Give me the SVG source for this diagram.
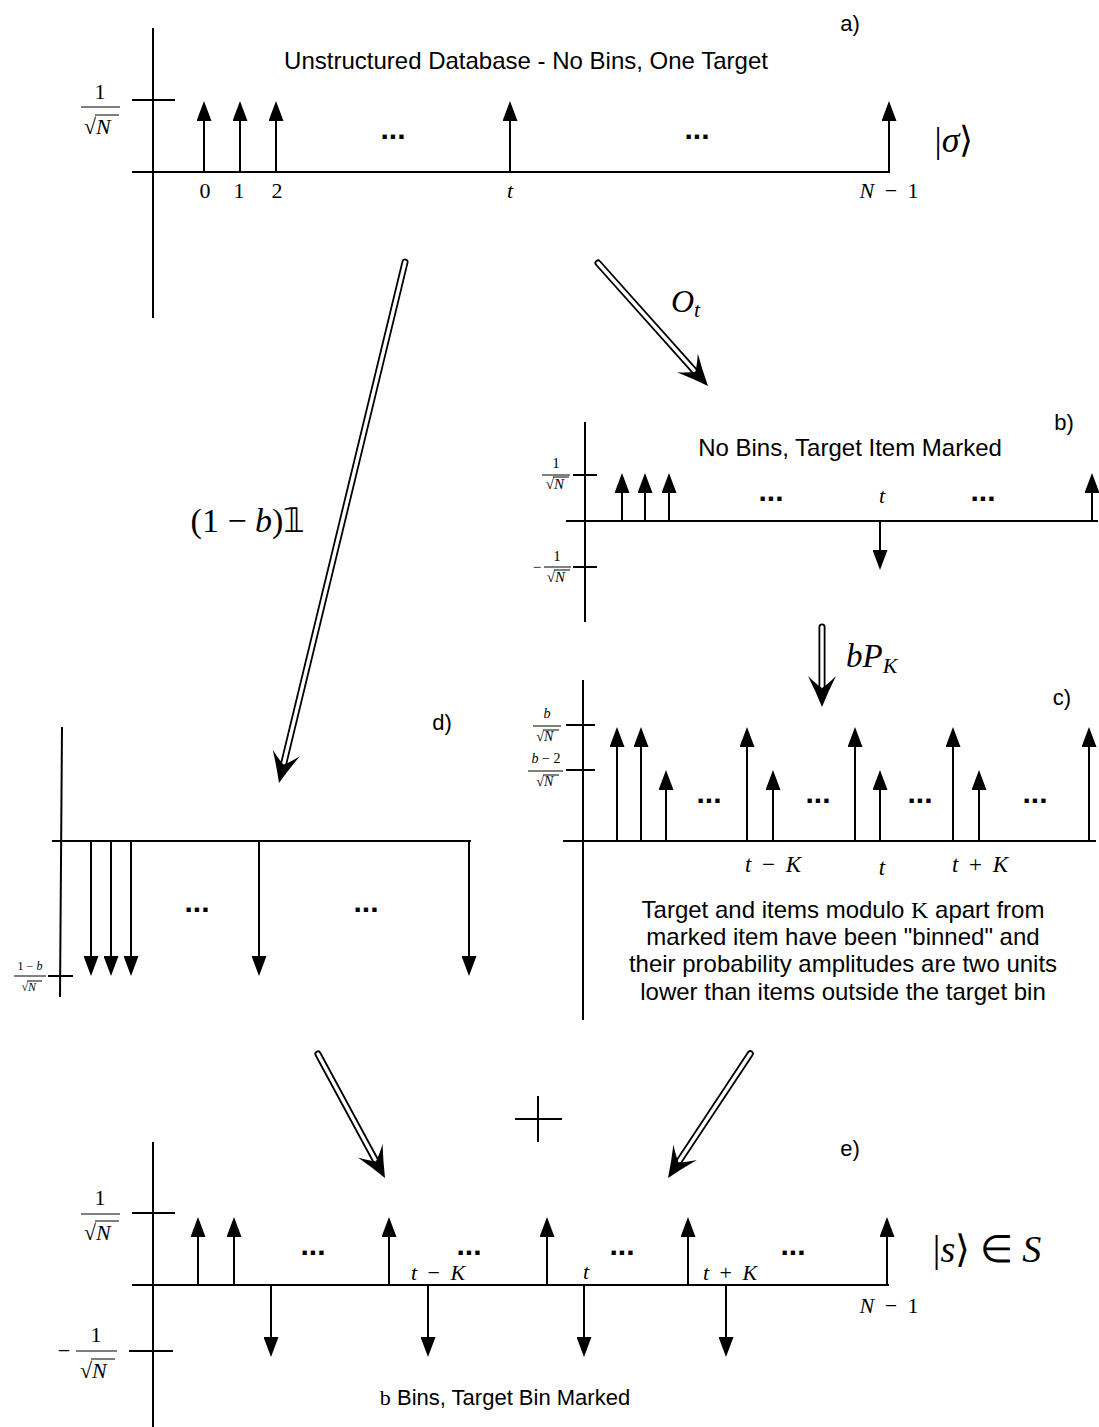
<svg xmlns="http://www.w3.org/2000/svg" xmlns:xlink="http://www.w3.org/1999/xlink" width="1099" height="1427" viewBox="0 0 1099 1427">
<style>
.ax{stroke:#000;stroke-width:2;fill:none}
.st{stroke:#000;stroke-width:2;fill:none;marker-end:url(#ah)}
.so{stroke:#000;stroke-width:7;stroke-linecap:round;fill:none}
.si{stroke:#fff;stroke-width:3.4;stroke-linecap:round;fill:none}
.fb{stroke:#000;stroke-width:1;fill:none}
.lbl{font-family:"Liberation Sans",Arial,sans-serif;font-size:24px;fill:#000}
.pl{font-family:"Liberation Sans",Arial,sans-serif;font-size:22px;fill:#000}
.dots{font-family:"Liberation Sans",Arial,sans-serif;font-size:30px;font-weight:bold;fill:#000}
.r{font-family:"Liberation Serif","Times New Roman",serif;fill:#000}
.i{font-family:"Liberation Serif","Times New Roman",serif;font-style:italic;fill:#000}
.ws{word-spacing:5px}
</style>
<defs>
<marker id="ah" viewBox="0 0 20 15" refX="16" refY="7.5" markerWidth="20" markerHeight="15" markerUnits="userSpaceOnUse" orient="auto">
<path d="M0,0 L20,7.5 L0,15 Z" fill="#000"/>
</marker>
<path id="dh" d="M0,0 Q-15,-6 -31,-14 Q-23,-6 -19,0 Q-23,6 -31,14 Q-15,6 0,0 Z" fill="#000"/>
</defs>
<rect width="1099" height="1427" fill="#fff"/>

<!-- Panel a -->
<g id="panel-a">
<line class="ax" x1="153" y1="28" x2="153" y2="318"/>
<line class="ax" x1="132" y1="172" x2="890" y2="172"/>
<line class="ax" x1="132" y1="100" x2="175" y2="100"/>
<text class="r" x="100" y="99" font-size="22" text-anchor="middle">1</text>
<line class="fb" x1="81" y1="107" x2="120" y2="107"/>
<text class="r" x="96" y="134" font-size="22" text-anchor="end">√</text>
<text class="i" x="96" y="134" font-size="22">N</text>
<line class="fb" x1="95" y1="115" x2="119" y2="115"/>
<line class="st" x1="204" y1="172" x2="204" y2="105"/>
<line class="st" x1="240" y1="172" x2="240" y2="105"/>
<line class="st" x1="276" y1="172" x2="276" y2="105"/>
<line class="st" x1="510" y1="172" x2="510" y2="105"/>
<line class="st" x1="889" y1="172" x2="889" y2="105"/>
<text class="r" x="205" y="198" font-size="22" text-anchor="middle">0</text>
<text class="r" x="239" y="198" font-size="22" text-anchor="middle">1</text>
<text class="r" x="277" y="198" font-size="22" text-anchor="middle">2</text>
<text class="i" x="510" y="198" font-size="22" text-anchor="middle">t</text>
<text class="i ws" x="889" y="198" font-size="22" text-anchor="middle">N<tspan class="r" font-style="normal"> − 1</tspan></text>
<text class="dots" x="393" y="139" text-anchor="middle">...</text>
<text class="dots" x="697" y="139" text-anchor="middle">...</text>
<text class="r" x="954" y="152" font-size="36" text-anchor="middle">|<tspan font-style="italic">σ</tspan>⟩</text>
<text class="lbl" x="526" y="69" text-anchor="middle">Unstructured Database - No Bins, One Target</text>
<text class="pl" x="850" y="31" text-anchor="middle">a)</text>
</g>

<!-- Panel b -->
<g id="panel-b">
<line class="ax" x1="585" y1="422" x2="585" y2="622"/>
<line class="ax" x1="566" y1="521" x2="1098" y2="521"/>
<line class="ax" x1="573" y1="475" x2="597" y2="475"/>
<line class="ax" x1="573" y1="567" x2="597" y2="567"/>
<text class="r" x="556" y="468" font-size="15" text-anchor="middle">1</text>
<line class="fb" x1="542" y1="475" x2="570" y2="475"/>
<text class="r" x="554" y="489" font-size="15" text-anchor="end">√</text>
<text class="i" x="554" y="489" font-size="15">N</text>
<line class="fb" x1="553" y1="477" x2="569" y2="477"/>
<text class="r" x="537" y="572" font-size="15" text-anchor="middle">−</text>
<text class="r" x="557" y="561" font-size="15" text-anchor="middle">1</text>
<line class="fb" x1="544" y1="567" x2="571" y2="567"/>
<text class="r" x="555" y="582" font-size="15" text-anchor="end">√</text>
<text class="i" x="555" y="582" font-size="15">N</text>
<line class="fb" x1="554" y1="570" x2="570" y2="570"/>
<line class="st" x1="622" y1="521" x2="622" y2="477"/>
<line class="st" x1="645" y1="521" x2="645" y2="477"/>
<line class="st" x1="669" y1="521" x2="669" y2="477"/>
<line class="st" x1="1092" y1="521" x2="1092" y2="477"/>
<line class="st" x1="880" y1="521" x2="880" y2="566"/>
<text class="i" x="882" y="503" font-size="22" text-anchor="middle">t</text>
<text class="dots" x="771" y="501" text-anchor="middle">...</text>
<text class="dots" x="983" y="501" text-anchor="middle">...</text>
<text class="lbl" x="850" y="456" text-anchor="middle">No Bins, Target Item Marked</text>
<text class="pl" x="1064" y="430" text-anchor="middle">b)</text>
</g>

<!-- Panel c -->
<g id="panel-c">
<line class="ax" x1="583" y1="680" x2="583" y2="1020"/>
<line class="ax" x1="563" y1="841" x2="1096" y2="841"/>
<line class="ax" x1="566" y1="725" x2="595" y2="725"/>
<line class="ax" x1="566" y1="770" x2="595" y2="770"/>
<text class="i" x="547" y="718" font-size="14" text-anchor="middle">b</text>
<line class="fb" x1="533" y1="726" x2="561" y2="726"/>
<text class="r" x="544" y="741" font-size="14" text-anchor="end">√</text>
<text class="i" x="544" y="741" font-size="14">N</text>
<line class="fb" x1="543" y1="730" x2="559" y2="730"/>
<text class="i" x="546" y="763" font-size="14" text-anchor="middle">b<tspan class="r" font-style="normal"> − 2</tspan></text>
<line class="fb" x1="528" y1="771" x2="563" y2="771"/>
<text class="r" x="544" y="786" font-size="14" text-anchor="end">√</text>
<text class="i" x="544" y="786" font-size="14">N</text>
<line class="fb" x1="543" y1="775" x2="559" y2="775"/>
<line class="st" x1="617" y1="841" x2="617" y2="731"/>
<line class="st" x1="641" y1="841" x2="641" y2="731"/>
<line class="st" x1="666" y1="841" x2="666" y2="774"/>
<line class="st" x1="747" y1="841" x2="747" y2="731"/>
<line class="st" x1="773" y1="841" x2="773" y2="774"/>
<line class="st" x1="855" y1="841" x2="855" y2="731"/>
<line class="st" x1="880" y1="841" x2="880" y2="774"/>
<line class="st" x1="953" y1="841" x2="953" y2="731"/>
<line class="st" x1="979" y1="841" x2="979" y2="774"/>
<line class="st" x1="1089" y1="841" x2="1089" y2="731"/>
<text class="dots" x="709" y="803" text-anchor="middle">...</text>
<text class="dots" x="818" y="803" text-anchor="middle">...</text>
<text class="dots" x="920" y="803" text-anchor="middle">...</text>
<text class="dots" x="1035" y="803" text-anchor="middle">...</text>
<text class="i ws" x="773" y="872" font-size="23" text-anchor="middle">t<tspan class="r" font-style="normal"> − </tspan>K</text>
<text class="i" x="882" y="875" font-size="23" text-anchor="middle">t</text>
<text class="i ws" x="980" y="872" font-size="23" text-anchor="middle">t<tspan class="r" font-style="normal"> + </tspan>K</text>
<text class="pl" x="1062" y="705" text-anchor="middle">c)</text>
<text class="lbl" x="843" y="918" text-anchor="middle">Target and items modulo <tspan class="r">K</tspan> apart from</text>
<text class="lbl" x="843" y="945" text-anchor="middle">marked item have been "binned" and</text>
<text class="lbl" x="843" y="972" text-anchor="middle">their probability amplitudes are two units</text>
<text class="lbl" x="843" y="1000" text-anchor="middle">lower than items outside the target bin</text>
</g>

<!-- Panel d -->
<g id="panel-d">
<line class="ax" x1="62" y1="727" x2="60" y2="997"/>
<line class="ax" x1="52" y1="841" x2="471" y2="841"/>
<line class="ax" x1="48" y1="976" x2="73" y2="976"/>
<text class="r" x="30" y="970" font-size="12" text-anchor="middle">1 − <tspan font-style="italic">b</tspan></text>
<line class="fb" x1="14" y1="976" x2="46" y2="976"/>
<text class="r" x="28" y="991" font-size="12" text-anchor="end">√</text>
<text class="i" x="28" y="991" font-size="12">N</text>
<line class="fb" x1="27" y1="981" x2="42" y2="981"/>
<line class="st" x1="91" y1="841" x2="91" y2="972"/>
<line class="st" x1="111" y1="841" x2="111" y2="972"/>
<line class="st" x1="131" y1="841" x2="131" y2="972"/>
<line class="st" x1="259" y1="841" x2="259" y2="972"/>
<line class="st" x1="469" y1="841" x2="469" y2="972"/>
<text class="dots" x="197" y="912" text-anchor="middle">...</text>
<text class="dots" x="366" y="912" text-anchor="middle">...</text>
<text class="pl" x="442" y="730" text-anchor="middle">d)</text>
</g>

<!-- Panel e -->
<g id="panel-e">
<line class="ax" x1="153" y1="1142" x2="153" y2="1427"/>
<line class="ax" x1="132" y1="1285" x2="889" y2="1285"/>
<line class="ax" x1="132" y1="1213" x2="175" y2="1213"/>
<line class="ax" x1="129" y1="1351" x2="173" y2="1351"/>
<text class="r" x="100" y="1205" font-size="22" text-anchor="middle">1</text>
<line class="fb" x1="81" y1="1214" x2="120" y2="1214"/>
<text class="r" x="96" y="1240" font-size="22" text-anchor="end">√</text>
<text class="i" x="96" y="1240" font-size="22">N</text>
<line class="fb" x1="95" y1="1221" x2="119" y2="1221"/>
<text class="r" x="64" y="1358" font-size="22" text-anchor="middle">−</text>
<text class="r" x="96" y="1342" font-size="22" text-anchor="middle">1</text>
<line class="fb" x1="76" y1="1351" x2="117" y2="1351"/>
<text class="r" x="92" y="1378" font-size="22" text-anchor="end">√</text>
<text class="i" x="92" y="1378" font-size="22">N</text>
<line class="fb" x1="91" y1="1359" x2="115" y2="1359"/>
<line class="st" x1="198" y1="1285" x2="198" y2="1221"/>
<line class="st" x1="234" y1="1285" x2="234" y2="1221"/>
<line class="st" x1="389" y1="1285" x2="389" y2="1221"/>
<line class="st" x1="547" y1="1285" x2="547" y2="1221"/>
<line class="st" x1="688" y1="1285" x2="688" y2="1221"/>
<line class="st" x1="887" y1="1285" x2="887" y2="1221"/>
<line class="st" x1="271" y1="1285" x2="271" y2="1353"/>
<line class="st" x1="428" y1="1285" x2="428" y2="1353"/>
<line class="st" x1="584" y1="1285" x2="584" y2="1353"/>
<line class="st" x1="726" y1="1285" x2="726" y2="1353"/>
<text class="dots" x="313" y="1255" text-anchor="middle">...</text>
<text class="dots" x="469" y="1255" text-anchor="middle">...</text>
<text class="dots" x="622" y="1255" text-anchor="middle">...</text>
<text class="dots" x="793" y="1255" text-anchor="middle">...</text>
<text class="i ws" x="438" y="1280" font-size="22" text-anchor="middle">t<tspan class="r" font-style="normal"> − </tspan>K</text>
<text class="i" x="586" y="1279" font-size="22" text-anchor="middle">t</text>
<text class="i ws" x="730" y="1280" font-size="22" text-anchor="middle">t<tspan class="r" font-style="normal"> + </tspan>K</text>
<text class="i ws" x="889" y="1313" font-size="22" text-anchor="middle">N<tspan class="r" font-style="normal"> − 1</tspan></text>
<text class="r" x="987" y="1262" font-size="38" text-anchor="middle">|<tspan font-style="italic">s</tspan>⟩ ∈ <tspan font-style="italic">S</tspan></text>
<text class="pl" x="850" y="1156" text-anchor="middle">e)</text>
<text class="pl" x="505" y="1405" text-anchor="middle"><tspan class="r">b</tspan> Bins, Target Bin Marked</text>
</g>

<!-- Connectors -->
<g id="connectors">
<g transform="translate(279,783) rotate(103.6)">
<line class="so" x1="-536" y1="0" x2="-19" y2="0"/>
<line class="si" x1="-536" y1="0" x2="-19" y2="0"/>
<use xlink:href="#dh"/>
</g>
<g transform="translate(708,386) rotate(48.2)">
<line class="so" x1="-165" y1="0" x2="-19" y2="0"/>
<line class="si" x1="-165" y1="0" x2="-19" y2="0"/>
<use xlink:href="#dh"/>
</g>
<g transform="translate(822,707) rotate(90)">
<line class="so" x1="-80" y1="0" x2="-19" y2="0"/>
<line class="si" x1="-80" y1="0" x2="-19" y2="0"/>
<use xlink:href="#dh"/>
</g>
<g transform="translate(385,1178) rotate(61.6)">
<line class="so" x1="-141" y1="0" x2="-19" y2="0"/>
<line class="si" x1="-141" y1="0" x2="-19" y2="0"/>
<use xlink:href="#dh"/>
</g>
<g transform="translate(668,1178) rotate(123.5)">
<line class="so" x1="-149" y1="0" x2="-19" y2="0"/>
<line class="si" x1="-149" y1="0" x2="-19" y2="0"/>
<use xlink:href="#dh"/>
</g>
<text class="i" x="671" y="312" font-size="32">O<tspan font-size="22" dy="5">t</tspan></text>
<text class="i" x="846" y="667" font-size="33">bP<tspan font-size="22" dy="6">K</tspan></text>
<text class="r" x="248" y="532" font-size="34" text-anchor="middle">(1 − <tspan font-style="italic">b</tspan>)𝟙</text>
<line class="ax" x1="515" y1="1119" x2="562" y2="1119"/>
<line class="ax" x1="538" y1="1096" x2="538" y2="1142"/>
</g>
</svg>
